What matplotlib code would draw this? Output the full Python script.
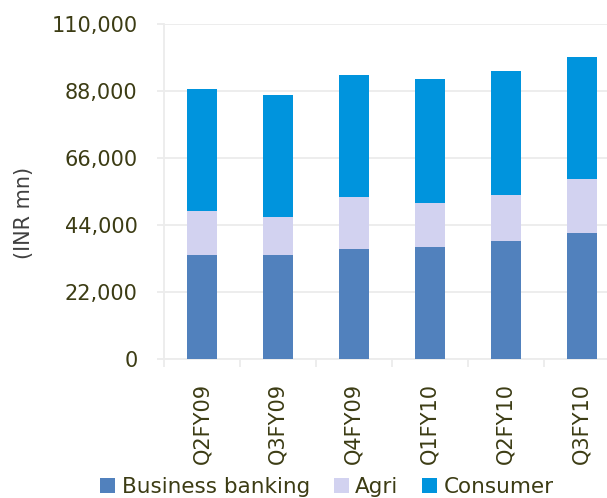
import numpy as np
import matplotlib
matplotlib.use("Agg")
import matplotlib.pyplot as plt

quarters = ["Q2FY09", "Q3FY09", "Q4FY09", "Q1FY10", "Q2FY10", "Q3FY10"]
business_banking = [34150, 34150, 36120, 36780, 38750, 41380]
agri = [14450, 12480, 17080, 14450, 15110, 17730]
consumer = [40060, 40070, 40060, 40720, 40710, 40060]
yticks = [0, 22000, 44000, 66000, 88000, 110000]

c_bb = "#5181bd"
c_agri = "#d2d2f0"
c_cons = "#0094dd"
txt = "#3c3c14"
grid_c = "#ececec"

plt.rcParams["font.family"] = "DejaVu Sans"

fig = plt.figure(figsize=(6.07, 4.98), dpi=100)
ax = fig.add_axes([0.270, 0.279, 0.751, 0.673])

x = np.arange(len(quarters))
bb = np.array(business_banking)
ag = np.array(agri)
w = 0.395
ax.bar(x, business_banking, w, color=c_bb, label="Business banking", zorder=3)
ax.bar(x, agri, w, bottom=bb, color=c_agri, label="Agri", zorder=3)
ax.bar(x, consumer, w, bottom=bb + ag, color=c_cons, label="Consumer", zorder=3)

ax.set_xlim(-0.5, len(quarters) - 0.5)
ax.set_ylim(0, 110000)
ax.set_yticks(yticks)
ax.set_yticklabels([f"{v:,}" for v in yticks])
ax.yaxis.grid(True, color=grid_c, lw=1.3, zorder=0)

ax.set_xticks(x)
ax.set_xticklabels(quarters, rotation=90, va="top", ha="center")
ax.set_xticks(np.arange(len(quarters) + 1) - 0.5, minor=True)
ax.tick_params(axis="x", which="major", length=0, pad=17, labelsize=15, labelcolor=txt)
ax.tick_params(axis="x", which="minor", length=6, width=1.3, color=grid_c)
ax.tick_params(axis="y", length=5, width=1.3, color=grid_c, pad=14, labelsize=15, labelcolor=txt)

for s in ["top", "right"]:
    ax.spines[s].set_visible(False)
for s in ["left", "bottom"]:
    ax.spines[s].set_color(grid_c)
    ax.spines[s].set_linewidth(1.3)

fig.text(24 / 607, 1 - 213 / 498, "(INR mn)", rotation=90, ha="center", va="center",
         fontsize=15, color="#404040")

fig.legend(loc="center left", bbox_to_anchor=(0.165, 0.022), ncol=3, frameon=False,
           fontsize=15.5, labelcolor=txt, handlelength=0.7, handleheight=0.7,
           handletextpad=0.3, columnspacing=1.1, borderpad=0, borderaxespad=0)

fig.savefig("out.png", dpi=100)
